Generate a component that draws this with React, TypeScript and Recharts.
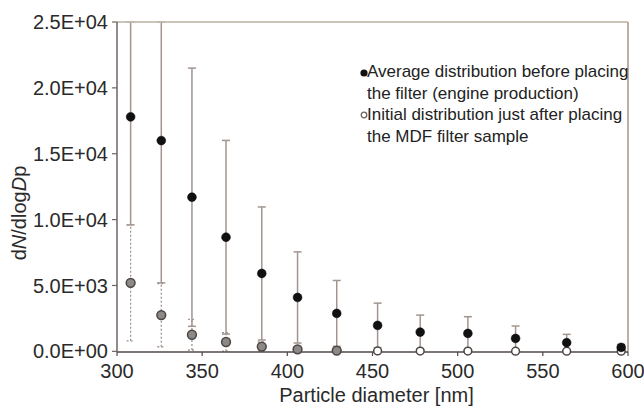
import React from 'react';
import { ScatterChart, Scatter, XAxis, YAxis, ErrorBar, ReferenceLine } from 'recharts';

const diameters = [308, 326, 344, 364, 385, 406, 429, 453, 478, 506, 534, 564, 596];
const beforeValues = [17800, 16000, 11700, 8660, 5910, 4090, 2880, 1970, 1460, 1360, 980, 660, 300];
// visible lower / upper extent of the error bars (upper part of the first two runs off the top of the plot)
const beforeErrLow = [8200, 10800, 9800, 7350, 5050, 3460, 2500, 1690, 1290, 1270, 940, 630, 230];
const beforeErrHigh = [7200, 9000, 9800, 7350, 5050, 3460, 2500, 1690, 1290, 1270, 940, 630, 230];
const afterValues = [5200, 2750, 1260, 710, 360, 150, 60, 30, 20, 20, 10, 10, 10];
const afterErrors = [4400, 2400, 1160, 700, 350, 200, 100, 50, 30, 20, 10, 10, 10];
const xTicks = [300, 350, 400, 450, 500, 550, 600];
const yTicks = [0, 5000, 10000, 15000, 20000, 25000];
const legendLabels = [
  'Average distribution before placing the filter (engine production)',
  'Initial distribution just after placing the MDF filter sample',
];

const beforeData = diameters.map((d, i) => ({ d, v: beforeValues[i], e: [beforeErrLow[i], beforeErrHigh[i]] }));
const afterData = diameters.map((d, i) => ({ d, v: afterValues[i], e: afterErrors[i], i }));

const FONT = '"Liberation Sans", Arial, sans-serif';

const fmtE = (v: number) => {
  if (v === 0) return '0.0E+00';
  const exp = Math.floor(Math.log10(Math.abs(v)));
  const mant = v / Math.pow(10, exp);
  const sign = exp >= 0 ? '+' : '-';
  return `${mant.toFixed(1)}E${sign}${String(Math.abs(exp)).padStart(2, '0')}`;
};

const BlackDot = (p: any) => {
  if (p.cx == null || p.cy == null) return null;
  return <circle cx={p.cx} cy={p.cy} r={4.4} fill="#111" stroke="#000" strokeWidth={0.5} />;
};

const GreyDot = (p: any) => {
  if (p.cx == null || p.cy == null) return null;
  const idx = p.payload ? p.payload.i : 0;
  const filled = idx < 7;
  return (
    <circle
      cx={p.cx}
      cy={p.cy}
      r={filled ? 4.4 : 3.9}
      fill={filled ? '#8d8986' : '#ffffff'}
      stroke="#4a4543"
      strokeWidth={1.5}
    />
  );
};

const NoShape = () => <g />;

const LegendBox = () => (
  <div
    style={{
      position: 'absolute',
      left: 357,
      top: 61,
      width: 285,
      fontFamily: FONT,
      fontSize: 17,
      lineHeight: '21.5px',
      color: '#222',
      pointerEvents: 'none',
    }}
  >
    <div style={{ position: 'relative', paddingLeft: 10, width: 262 }}>
      <svg width={10} height={10} style={{ position: 'absolute', left: 2, top: 7 }}>
        <circle cx={5} cy={5} r={3.6} fill="#111" />
      </svg>
      {legendLabels[0]}
    </div>
    <div style={{ position: 'relative', paddingLeft: 10, width: 262 }}>
      <svg width={10} height={10} style={{ position: 'absolute', left: 2, top: 6 }}>
        <circle cx={5} cy={5} r={2.8} fill="#fff" stroke="#6d6360" strokeWidth={1.3} />
      </svg>
      {legendLabels[1]}
    </div>
  </div>
);

const XLabel = (props: any) => {
  const vb = props.viewBox || {};
  return (
    <text
      x={vb.x + vb.width / 2 + 4}
      y={vb.y + 49.5}
      textAnchor="middle"
      fontFamily={FONT}
      fontSize={20}
      fill="#2a2a2a"
    >
      Particle diameter [nm]
    </text>
  );
};

const YLabel = () => (
  <text
    transform="translate(25.5,213) rotate(-90)"
    textAnchor="middle"
    fontFamily={FONT}
    fontSize={20}
    fill="#2a2a2a"
  >
    d<tspan fontStyle="italic">N</tspan>/dlog<tspan fontStyle="italic">D</tspan>p
  </text>
);

export default function App() {
  return (
    <div style={{ position: 'absolute', left: 0, top: 0, width: 644, height: 408, background: '#fff' }}>
      <ScatterChart width={644} height={408} margin={{ top: 21, right: 15, bottom: 0, left: 0 }}>
        <XAxis
          xAxisId="frameTop"
          orientation="top"
          type="number"
          domain={[300, 600]}
          ticks={xTicks}
          height={1}
          tick={false}
          tickLine={false}
          axisLine={{ stroke: '#c9c0b3', strokeWidth: 1.6 }}
        />
        <YAxis
          yAxisId="frameRight"
          orientation="right"
          type="number"
          domain={[0, 25000]}
          ticks={yTicks}
          width={1}
          tick={false}
          tickLine={false}
          axisLine={{ stroke: '#b8ada1', strokeWidth: 1.6 }}
        />
        <XAxis
          type="number"
          dataKey="d"
          domain={[300, 600]}
          ticks={xTicks}
          height={56}
          tickSize={4}
          tickMargin={8}
          axisLine={{ stroke: '#514946', strokeWidth: 1.5 }}
          tickLine={{ stroke: '#514946', strokeWidth: 1.2 }}
          tick={{ fontFamily: FONT, fontSize: 20, fill: '#2a2a2a' }}
          label={<XLabel />}
        />
        <YAxis
          type="number"
          dataKey="v"
          domain={[0, 25000]}
          ticks={yTicks}
          width={117}
          tickSize={5}
          tickMargin={4}
          tickFormatter={fmtE}
          axisLine={{ stroke: '#6e6562', strokeWidth: 1.5 }}
          tickLine={{ stroke: '#6e6562', strokeWidth: 1.2 }}
          tick={{ fontFamily: FONT, fontSize: 20, fill: '#2a2a2a' }}
          label={<YLabel />}
        />
        <ReferenceLine y={25000} stroke="#c9c0b3" strokeWidth={1.6} />
        <ReferenceLine x={600} stroke="#b8ada1" strokeWidth={1.6} />
        <Scatter data={beforeData} shape={NoShape} isAnimationActive={false} legendType="none">
          <ErrorBar dataKey="e" direction="y" width={4} stroke="#a2958f" strokeWidth={1.5} isAnimationActive={false} />
        </Scatter>
        <Scatter data={afterData} shape={GreyDot} isAnimationActive={false}>
          <ErrorBar
            dataKey="e"
            direction="y"
            width={4}
            stroke="#a2958f"
            strokeWidth={1.3}
            strokeDasharray="2 2"
            isAnimationActive={false}
          />
        </Scatter>
        <Scatter data={beforeData} shape={BlackDot} isAnimationActive={false} />
      </ScatterChart>
      <LegendBox />
    </div>
  );
}
